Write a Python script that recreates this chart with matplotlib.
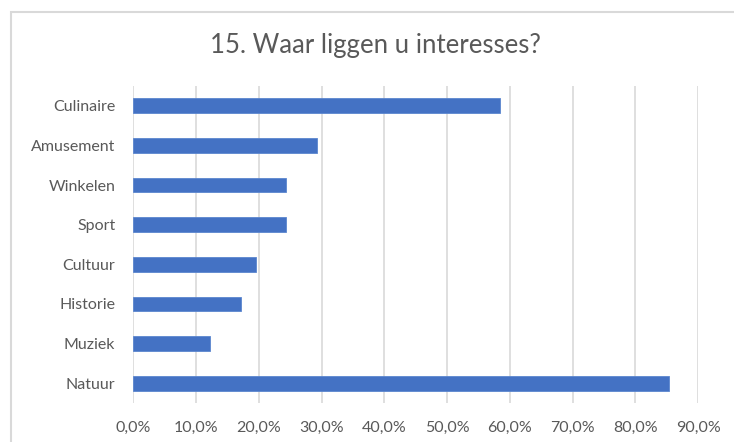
import matplotlib.pyplot as plt
from matplotlib.patches import Rectangle
from matplotlib.ticker import FuncFormatter

# data, top to bottom as shown
categories = ["Culinaire", "Amusement", "Winkelen", "Sport", "Cultuur", "Historie", "Muziek", "Natuur"]
shares = [0.585, 0.293, 0.244, 0.244, 0.195, 0.171, 0.122, 0.854]
x_ticks = [0.0, 0.1, 0.2, 0.3, 0.4, 0.5, 0.6, 0.7, 0.8, 0.9]

plt.rcParams["font.family"] = ["Lato", "DejaVu Sans"]
text_col = "#595959"
grid_col = "#d9d9d9"

fig = plt.figure(figsize=(7.34, 4.42), dpi=100)
# chart frame, runs off the right and bottom edges
fig.patches.append(Rectangle((11 / 734, -0.1), 1.2, 1 - 12 / 442 + 0.1, transform=fig.transFigure,
                             fill=False, edgecolor="#d9d9d9", linewidth=1.5))

ax = fig.add_axes([133.3 / 734, 1 - 403 / 442, (698 - 133.3) / 734, (403 - 86) / 442])
ypos = range(len(categories))
ax.barh(ypos, shares, height=0.37, color="#4472c4", edgecolor="#5b86cf", linewidth=0.6, zorder=3)
ax.set_ylim(len(categories) - 0.5, -0.5)
ax.set_yticks(list(ypos))
ax.set_yticklabels(categories)
ax.set_xlim(0, 0.9)
ax.set_xticks(x_ticks)
ax.xaxis.set_major_formatter(FuncFormatter(lambda v, p: f"{v * 100:.1f}%".replace(".", ",")))
ax.grid(axis="x", color=grid_col, linewidth=1.2, zorder=0)
for s in ax.spines.values():
    s.set_visible(False)
ax.tick_params(axis="both", length=0, labelsize=11.5, colors=text_col)
ax.tick_params(axis="y", pad=13)
ax.tick_params(axis="x", pad=13)

fig.text(375 / 734, 1 - 45 / 442, "15. Waar liggen u interesses?", ha="center", va="center",
         fontsize=18.5, color=text_col)

fig.savefig("out.png", dpi=100)
